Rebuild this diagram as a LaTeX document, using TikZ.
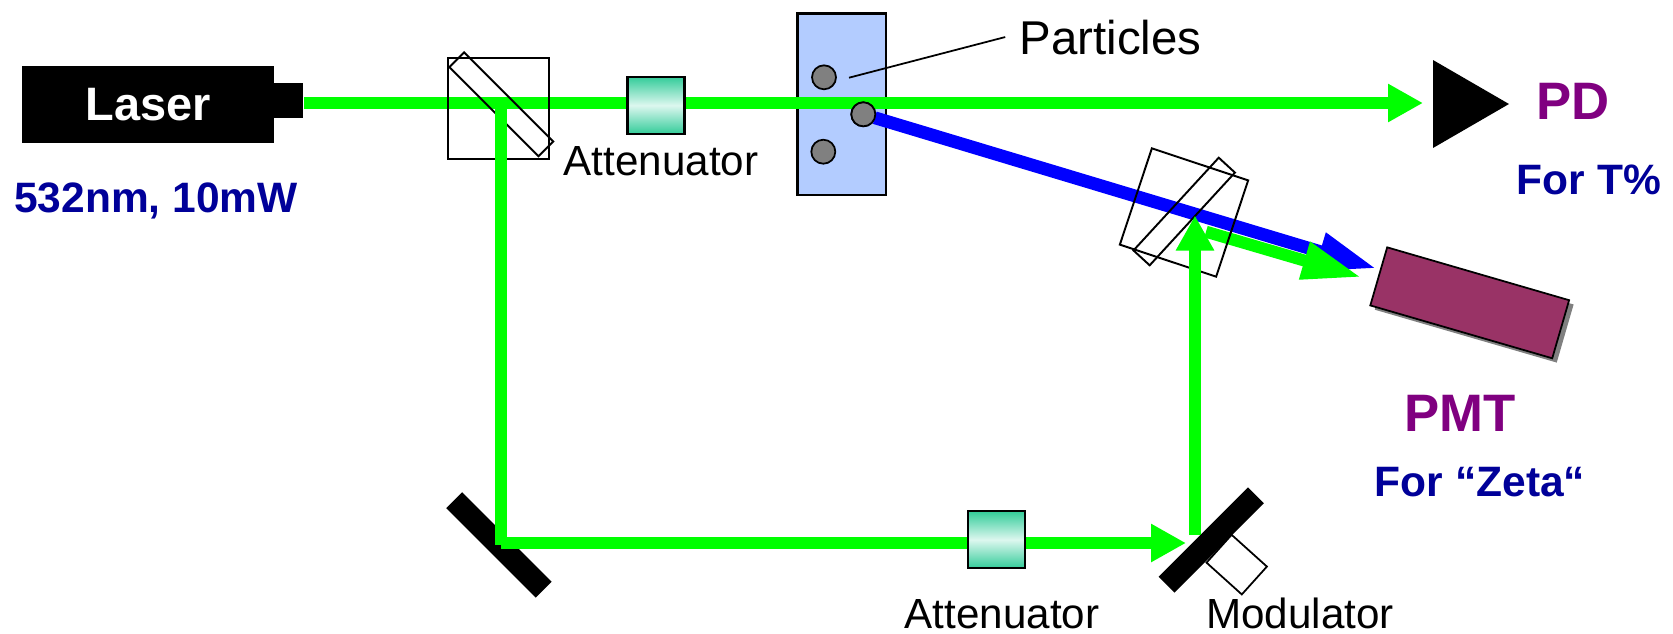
\documentclass[tikz,border=0pt]{standalone}
\usepackage{fontspec}
\setmainfont{Liberation Sans}
\usetikzlibrary{arrows.meta,shapes.geometric}
\definecolor{beamgreen}{RGB}{0,255,0}
\definecolor{beamblue}{RGB}{0,0,255}
\definecolor{labelnavy}{RGB}{0,0,153}
\definecolor{labelpurple}{RGB}{128,0,128}
\definecolor{pmtred}{RGB}{153,51,102}
\definecolor{samplefill}{RGB}{179,204,255}
\definecolor{attedge}{RGB}{51,204,153}
\definecolor{attmid}{RGB}{221,247,239}
\tikzset{
  box/.style={draw,inner sep=0pt,outer sep=0pt,line width=1pt},
  optic/.style={box,line width=1.1pt},
  mirror/.style={fill=black,inner sep=0pt,outer sep=0pt,minimum width=2.53cm,minimum height=.45cm},
  attenuator/.style={box,line width=1.3pt,minimum width=1.14cm,minimum height=1.14cm,
    top color=attedge,bottom color=attedge,middle color=attmid},
  particle/.style={circle,draw,fill=gray,line width=1pt,inner sep=0pt,outer sep=0pt,minimum size=.48cm},
  greenbeam/.style={draw=beamgreen,line width=.24cm},
  bluebeam/.style={draw=beamblue,line width=.256cm},
  shorttip/.style={-{Triangle[length=.7cm,width=.72cm]}},
  longtip/.style={-{Triangle[length=1.19cm,width=.72cm]}},
  plainlabel/.style={anchor=base,inner sep=0pt,font=\fontsize{24}{28}\selectfont},
  notelabel/.style={anchor=base,inner sep=0pt,text=labelnavy,font=\fontsize{24.2}{28}\selectfont\bfseries},
  namelabel/.style={anchor=base,inner sep=0pt,text=labelpurple,font=\fontsize{30}{34}\selectfont\bfseries}
}
\begin{document}
\begin{tikzpicture}[x=.02cm,y=-.02cm]
  \useasboundingbox (0,0) rectangle (1673,633);
  \coordinate (beamstart) at (304,103);
  \coordinate (pdtip) at (1423,103);
  \coordinate (splitout) at (501,109);
  \coordinate (foldin) at (501,545);
  \coordinate (foldout) at (501,543);
  \coordinate (modtip) at (1186,543);
  \coordinate (modout) at (1195,535);
  \coordinate (mixtip) at (1195,215.5);
  \coordinate (mixout) at (1206,231.7);
  \coordinate (greentip) at (1361.5,277.3);
  \coordinate (bluetip) at (1377,268.7);
  \coordinate (leaderstart) at (849,77.7);
  \node[fill=black,inner sep=0pt,outer sep=0pt,minimum width=5.04cm,minimum height=1.54cm,
    text=white,font=\fontsize{26.7}{30}\selectfont\bfseries] (laser) at (148,104.5) {Laser};
  \node[fill=black,inner sep=0pt,outer sep=0pt,minimum width=.58cm,minimum height=.7cm] (nozzle) at (288.5,100.5) {};
  \node[box,line width=1.3pt,fill=samplefill,minimum width=1.77cm,minimum height=3.63cm] (sample) at (841.8,104.2) {};
  \node[fill=black,isosceles triangle,isosceles triangle stretches,shape border rotate=0,
    inner sep=0pt,outer sep=0pt,minimum width=1.76cm,minimum height=1.52cm,anchor=lower side] (pd) at (1433,104) {};
  \node[fill=gray,inner sep=0pt,minimum width=3.79cm,minimum height=1.21cm,rotate=-16.2] (pmtshadow) at (1474.2,307.1) {};
  \node[box,fill=pmtred,minimum width=3.79cm,minimum height=1.21cm,rotate=-16.2] (pmt) at (1469.7,302.8) {};
  \node[mirror,rotate=-45] (foldmirror) at (498.9,544.9) {};
  \node[box,fill=white,minimum width=.95cm,minimum height=.75cm,rotate=-42] (modulator) at (1236.7,564.6) {};
  \node[mirror,rotate=45] (modmirror) at (1211.3,540) {};
  \draw[greenbeam,shorttip] (beamstart) -- (pdtip);
  \draw[greenbeam,shorttip] (foldout) -- (modtip);
  \node[particle] (particleb) at (863.3,114.3) {};
  \draw[bluebeam,longtip] (particleb) -- (bluetip);
  \draw[greenbeam,longtip] (mixout) -- (greentip);
  \node[particle] (particleb) at (863.3,114.3) {};
  \node[particle] (particlea) at (824,77.3) {};
  \node[particle] (particlec) at (823.3,151.7) {};
  \node[optic,minimum width=2.03cm,minimum height=2.03cm] (splitcube) at (498.4,108.4) {};
  \node[optic,minimum width=2.52cm,minimum height=.42cm,rotate=-45] (splitplate) at (501.3,104.3) {};
  \node[optic,minimum width=2.03cm,minimum height=2.03cm,rotate=-18.4] (mixcube) at (1184,212.5) {};
  \node[optic,minimum width=2.52cm,minimum height=.44cm,rotate=47.4] (mixplate) at (1184.2,211.5) {};
  \draw[greenbeam] (splitout) -- (foldin);
  \draw[greenbeam,shorttip] (modout) -- (mixtip);
  \node[attenuator] (attena) at (656,105.3) {};
  \node[attenuator] (attenb) at (996.3,539.7) {};
  \node[plainlabel,font=\fontsize{27}{31}\selectfont,inner xsep=.28cm] (partlabel) at (1110.5,54) {Particles};
  \draw[line width=1pt] (leaderstart) -- (partlabel.west);
  \node[plainlabel] (attenalabel) at (661,175) {Attenuator};
  \node[plainlabel] (attenblabel) at (1002,628.5) {Attenuator};
  \node[plainlabel] (modlabel) at (1300,628.5) {Modulator};
  \node[notelabel] (laserlabel) at (156,212.7) {532nm, 10mW};
  \node[namelabel] (pdlabel) at (1573,119) {PD};
  \node[notelabel] (pdnote) at (1589,194) {For T\%};
  \node[namelabel] (pmtlabel) at (1460,431) {PMT};
  \node[notelabel] (pmtnote) at (1480,496.7) {For “Zeta“};
\end{tikzpicture}
\end{document}
